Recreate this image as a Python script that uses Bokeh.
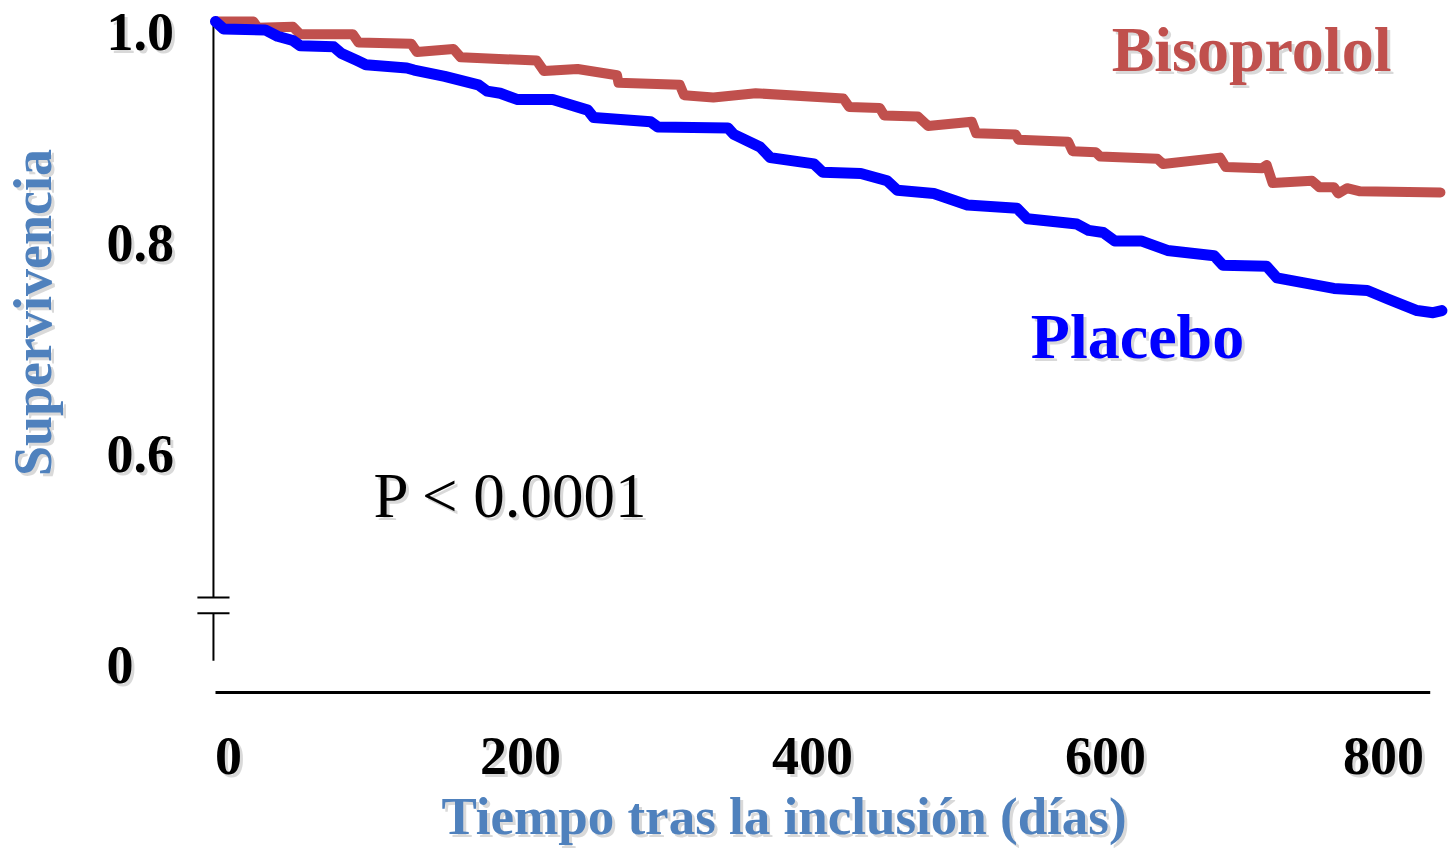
import math
from bokeh.plotting import figure
from bokeh.models import Range1d
from bokeh.core.properties import value
from bokeh.embed import file_html
from bokeh.resources import INLINE

# ---------------- data ----------------
bisoprolol_days = [0, 26, 29, 53, 58, 94, 98, 134, 138, 163, 168, 220, 225, 248, 275,
                   276, 318, 321, 341, 370, 430, 434, 455, 458, 481, 488, 518, 521, 548, 550,
                   584, 587, 603, 606, 645, 649, 688, 692, 717, 720, 724, 751, 756, 766, 769,
                   775, 784, 839]
bisoprolol_surv = [1.000, 1.000, 0.994, 0.995, 0.988, 0.988, 0.980, 0.979, 0.971, 0.974,
                   0.966, 0.963, 0.953, 0.955, 0.949, 0.942, 0.940, 0.930, 0.928, 0.932,
                   0.927, 0.919, 0.918, 0.911, 0.910, 0.901, 0.905, 0.894, 0.893, 0.888,
                   0.886, 0.877, 0.876, 0.872, 0.870, 0.865, 0.871, 0.862, 0.861, 0.864,
                   0.847, 0.849, 0.843, 0.843, 0.837, 0.842, 0.839, 0.838]

placebo_days = [0, 5.5, 34, 42.5, 53, 58, 81, 86, 97, 103, 131, 136, 157, 180, 186,
                195, 207, 231, 255, 259, 298, 303, 351, 355, 373, 380, 410, 416, 442, 460,
                467, 492, 515, 549, 556, 590, 598, 608, 616, 634, 652, 684, 690, 720, 727,
                766, 789, 803, 823, 834, 840]
placebo_surv = [1.000, 0.993, 0.992, 0.986, 0.982, 0.977, 0.976, 0.970, 0.963, 0.959,
                0.956, 0.954, 0.948, 0.940, 0.934, 0.932, 0.926, 0.926, 0.916, 0.909,
                0.905, 0.900, 0.899, 0.893, 0.881, 0.871, 0.865, 0.857, 0.856, 0.849,
                0.840, 0.837, 0.826, 0.823, 0.813, 0.808, 0.802, 0.800, 0.792, 0.792,
                0.783, 0.778, 0.769, 0.768, 0.757, 0.747, 0.745, 0.737, 0.726, 0.724,
                0.726]

x_ticks = [0, 200, 400, 600, 800]
x_tick_labels = ["0", "200", "400", "600", "800"]
y_ticks = [1.0, 0.8, 0.6]
y_tick_labels = ["1.0", "0.8", "0.6"]
zero_label = "0"
series_names = ["Bisoprolol", "Placebo"]
p_value_text = "P < 0.0001"
x_title = "Tiempo tras la inclusión (días)"
y_title = "Supervivencia"

# ---------------- layout / style ----------------
W, H = 1450, 848
PX_PER_DAY = 1.46
PX_PER_UNIT = 1055.0
ORIGIN_X = 215      # canvas px of day 0
TOP_Y = 21          # canvas px of survival 1.0

RED = "#c0504d"
BLUE = "#0000ff"
TITLE_BLUE = "#4f81bd"
SERIF = value("Liberation Serif")

# axis geometry in data units (broken y axis)
AXIS_X = -1.4
Y_AXIS_TOP = 1.0
BREAK_HI = 0.454
BREAK_LO = 0.439
Y_AXIS_BOTTOM = 0.394
BREAK_HALF = 11
X_AXIS_Y = 0.364
X_AXIS_END = 832
ZERO_POS = 0.401    # position of the "0" tick on the compressed part of the axis
X_LABEL_SHIFT = [13, 13, 13, 14, 0]   # screen-px nudges of the x tick labels

x_range = Range1d(-ORIGIN_X / PX_PER_DAY, (W - ORIGIN_X) / PX_PER_DAY)
y_range = Range1d(1 - (H - TOP_Y) / PX_PER_UNIT, 1 + TOP_Y / PX_PER_UNIT)

p = figure(width=W, height=H, x_range=x_range, y_range=y_range,
           output_backend="svg", toolbar_location=None,
           x_axis_location=None, y_axis_location=None, min_border=0)
p.xgrid.visible = False
p.ygrid.visible = False
p.outline_line_color = None
p.background_fill_color = "white"
p.border_fill_color = "white"


def text(x, y, labels, color, size, style="bold", align="center",
         baseline="alphabetic", angle=0.0, xo=0, yo=0, shadow=True):
    common = dict(text_font=SERIF, text_font_size=f"{size}px", text_font_style=style,
                  text_align=align, text_baseline=baseline, angle=angle)
    lift = round(0.33 * size) if baseline == "alphabetic" else 0
    if isinstance(xo, list):
        xs = [v - (lift if angle else 0) for v in xo]
    else:
        xs = xo - (lift if angle else 0)
    ys = yo - (0 if angle else lift)
    sx = [v + 3 for v in xs] if isinstance(xs, list) else xs + 3
    if shadow:
        p.text(x=x, y=y, text=labels, text_color="#808080", text_alpha=0.3,
               x_offset=sx, y_offset=ys + 3, **common)
    p.text(x=x, y=y, text=labels, text_color=color, x_offset=xs, y_offset=ys, **common)


# axes (drawn by hand: broken y axis, detached x axis)
p.segment(x0=[AXIS_X, AXIS_X], y0=[Y_AXIS_TOP, BREAK_LO], x1=[AXIS_X, AXIS_X],
          y1=[BREAK_HI, Y_AXIS_BOTTOM], line_color="black", line_width=2)
p.segment(x0=[AXIS_X - BREAK_HALF] * 2, y0=[BREAK_HI, BREAK_LO],
          x1=[AXIS_X + BREAK_HALF] * 2, y1=[BREAK_HI, BREAK_LO],
          line_color="black", line_width=2)
p.segment(x0=[0], y0=[X_AXIS_Y], x1=[X_AXIS_END], y1=[X_AXIS_Y],
          line_color="black", line_width=3)

# curves
p.line(bisoprolol_days, bisoprolol_surv, line_color=RED, line_width=10,
       line_join="round", line_cap="round")
p.line(placebo_days, placebo_surv, line_color=BLUE, line_width=11,
       line_join="round", line_cap="round")

# tick labels
text(x_ticks, [X_AXIS_Y] * len(x_ticks), x_tick_labels, "black", 54,
     baseline="middle", xo=X_LABEL_SHIFT, yo=64)
text([0] * len(y_ticks), y_ticks, y_tick_labels, "black", 54,
     align="left", baseline="middle", xo=-109, yo=10)
text([0], [ZERO_POS], [zero_label], "black", 54,
     align="left", baseline="middle", xo=-109, yo=12)

# series labels and annotation
text([709.6], [0.9536], [series_names[0]], RED, 64)
text([631.5], [0.6815], [series_names[1]], BLUE, 64)
text([108.2], [0.5299], [p_value_text], "black", 63, style="normal", align="left")

# axis titles
text([389.4], [0.2305], [x_title], TITLE_BLUE, 53)
text([-113.0], [0.7242], [y_title], TITLE_BLUE, 54, angle=math.pi / 2)

open("out.html", "w").write(file_html(p, INLINE))
